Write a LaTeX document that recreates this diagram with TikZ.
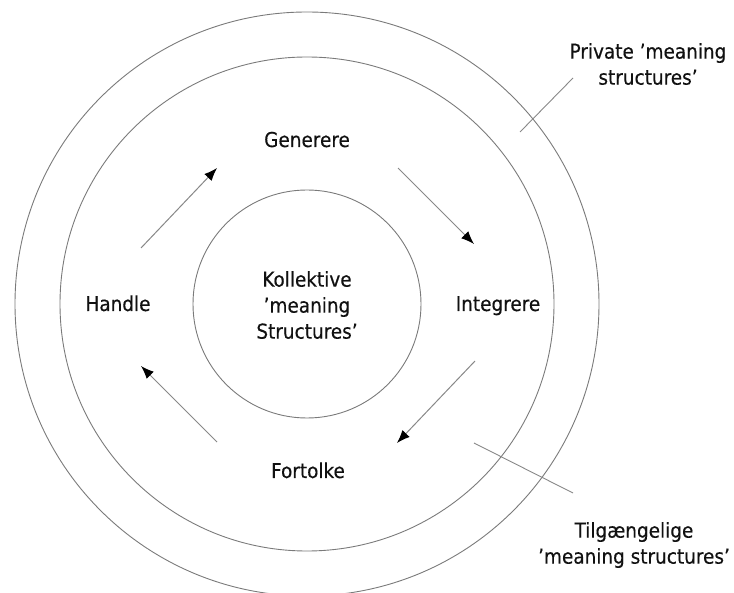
\documentclass[tikz,border=0pt]{standalone}
\usepackage{fontspec}
\setmainfont{DejaVu Sans Condensed}[FakeBold=0.35]
\usetikzlibrary{arrows.meta}
\definecolor{ringgray}{HTML}{7A7A7A}
\definecolor{linegray}{HTML}{888888}
\definecolor{inkgray}{HTML}{111111}
\begin{document}
\begin{tikzpicture}[x=1pt,y=-1pt,
  ring/.style={draw=ringgray, line width=0.9pt},
  lbl/.style={font=\fontsize{20.5}{26}\selectfont, text=inkgray, align=center, inner sep=0pt},
  word/.style={lbl, anchor=base},
  flow/.style={draw=linegray, line width=1pt, -{Latex[length=13pt,width=10pt,color=black]}},
  leader/.style={draw=linegray, line width=0.9pt}]
\useasboundingbox (0,0) rectangle (734,593);

% three concentric rings
\coordinate (c) at (307,304);
\draw[ring] (c) circle[radius=292pt];
\draw[ring] (c) circle[radius=247pt];
\node[ring, circle, minimum size=228pt, inner sep=0pt] (core) at (c) {};

% labels
\node[lbl] (kollektive) at (307,305) {Kollektive\\’meaning\\Structures’};
\node[word] (generere) at (307,147) {Generere};
\node[word] (integrere) at (498,311) {Integrere};
\node[word] (fortolke) at (308,478) {Fortolke};
\node[word] (handle) at (118,311) {Handle};

\node[lbl] (private) at (648,64) {Private ’meaning\\structures’};
\node[lbl] (tilg) at (634,545) {Tilgængelige\\’meaning structures’};

% cycle arrows
\coordinate (a1s) at (141,248); \coordinate (a1e) at (217,168);
\coordinate (a2s) at (398,168); \coordinate (a2e) at (474,244);
\coordinate (a3s) at (475,361); \coordinate (a3e) at (397,443);
\coordinate (a4s) at (217,442); \coordinate (a4e) at (141,366);
\draw[flow] (a1s) -- (a1e);
\draw[flow] (a2s) -- (a2e);
\draw[flow] (a3s) -- (a3e);
\draw[flow] (a4s) -- (a4e);

% leader lines to the ring captions
\coordinate (p1) at (520,132); \coordinate (p2) at (573,78);
\coordinate (t1) at (474,443); \coordinate (t2) at (573,493);
\draw[leader] (p1) -- (p2);
\draw[leader] (t1) -- (t2);
\end{tikzpicture}
\end{document}
